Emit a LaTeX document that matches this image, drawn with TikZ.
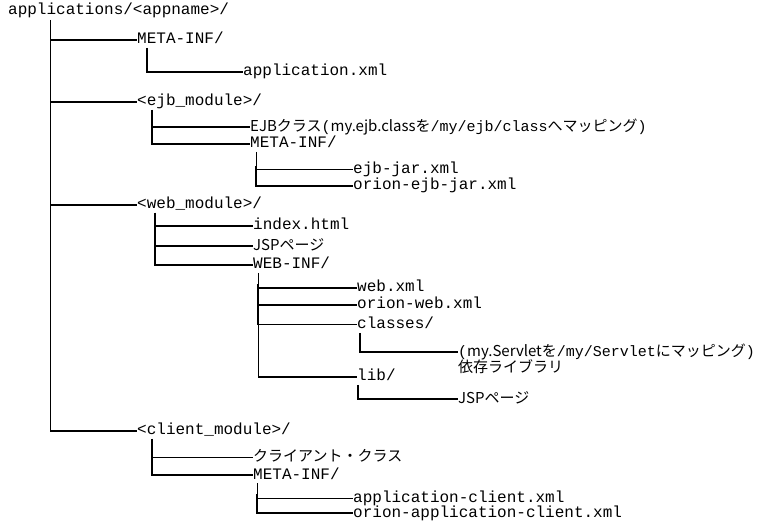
\documentclass[tikz,border=0pt]{standalone}
\usepackage{fontspec}
\newfontfamily\ttdir{Liberation Mono}
\newfontfamily\jpfont{Noto Sans CJK JP}
\usetikzlibrary{positioning,calc}

% paths inside the Japanese notes
\newcommand{\tpath}[1]{{\ttdir\fontsize{15}{15}\selectfont #1}}

\tikzset{
  dir/.style={font=\ttdir\fontsize{16}{16}\selectfont, anchor=west,
              inner sep=0pt, text height=10pt, text depth=2pt},
  note/.style={font=\jpfont\fontsize{15}{15}\selectfont, anchor=west,
               inner sep=0pt, text height=11pt, text depth=2pt},
  thk/.style={line width=2.2pt},
  thn/.style={line width=1pt},
}

\begin{document}
\begin{tikzpicture}[x=1pt, y=-1pt]
\useasboundingbox (0,0) rectangle (769,521);

% --- root and first level ---
\node[dir] (root) at (8,11) {applications/<appname>/};
\node[dir] (meta1) at (137,40) {META-INF/};
\node[dir] (ejb) at (137,102) {<ejb\_module>/};
\node[dir] (web) at (137,205) {<web\_module>/};
\node[dir] (client) at (137,431) {<client\_module>/};

\coordinate (r0) at (50,20);
\draw[thn] (r0) |- (client.west);
\foreach \n in {meta1,ejb,web,client}
    \draw[thk] (r0 |- \n.west) -- (\n.west);

% --- META-INF ---
\node[dir] (appxml) at (243,72) {application.xml};
\coordinate (m1) at (147,48);
\draw[thk] (m1) |- (appxml.west);

% --- ejb module ---
\node[note] (ejbcls) at (250,127)
    {EJBクラス\tpath{(}my.ejb.classを\tpath{/my/ejb/class}へマッピング\tpath{)}};
\node[dir] (meta2) at (250,144) {META-INF/};
\coordinate (e0) at (152,110);
\foreach \n in {ejbcls,meta2}
    \draw[thk] (e0) |- (\n.west);

\node[dir] (ejbjar) at (353,170) {ejb-jar.xml};
\node[dir] (orionejb) at (353,186) {orion-ejb-jar.xml};
\coordinate (m2) at (256,152);
\draw[thn] (m2) |- (ejbjar.west);
\draw[thk] ($(m2 |- ejbjar.west)+(0,-4)$) |- (orionejb.west);

% --- web module ---
\node[dir] (index) at (253,226) {index.html};
\node[note] (jsp1) at (253,246) {JSPページ};
\node[dir] (webinf) at (253,265) {WEB-INF/};
\coordinate (w0) at (155,213);
\foreach \n in {index,jsp1,webinf}
    \draw[thk] (w0) |- (\n.west);

\node[dir] (webxml) at (357,288) {web.xml};
\node[dir] (orionweb) at (357,305) {orion-web.xml};
\node[dir] (classes) at (357,325) {classes/};
\node[dir] (lib) at (357,377) {lib/};
\coordinate (w1) at (258,273);
\draw[thn] (w1) |- (lib.west);
\draw[thk] ($(w1 |- webxml.west)+(0,-4)$) -- (w1 |- classes.west);
\foreach \n in {webxml,orionweb,lib}
    \draw[thk] (w1 |- \n.west) -- (\n.west);
\draw[thn] (w1 |- classes.west) -- (classes.west);

\node[note] (servlet) at (458,352)
    {\tpath{(}my.Servletを\tpath{/my/Servlet}にマッピング\tpath{)}};
\node[note, below=3pt of servlet.south west, anchor=north west] (deplib) {依存ライブラリ};
\coordinate (c0) at (360,333);
\draw[thk] (c0) |- (servlet.west);

\node[note] (jsp2) at (458,399) {JSPページ};
\coordinate (l0) at (358,385);
\draw[thk] (l0) |- (jsp2.west);

% --- client module ---
\node[note] (clientcls) at (253,457) {クライアント・クラス};
\node[dir] (meta3) at (253,475) {META-INF/};
\coordinate (k0) at (152,439);
\draw[thk] (k0) |- (meta3.west);
\draw[thn] (k0) |- (clientcls.west);

\node[dir] (appclient) at (353,498) {application-client.xml};
\node[dir] (orionapp) at (353,513) {orion-application-client.xml};
\coordinate (m3) at (257,483);
\draw[thn] (m3) |- (appclient.west);
\draw[thk] ($(m3 |- appclient.west)+(0,-4)$) |- (orionapp.west);

\end{tikzpicture}
\end{document}
